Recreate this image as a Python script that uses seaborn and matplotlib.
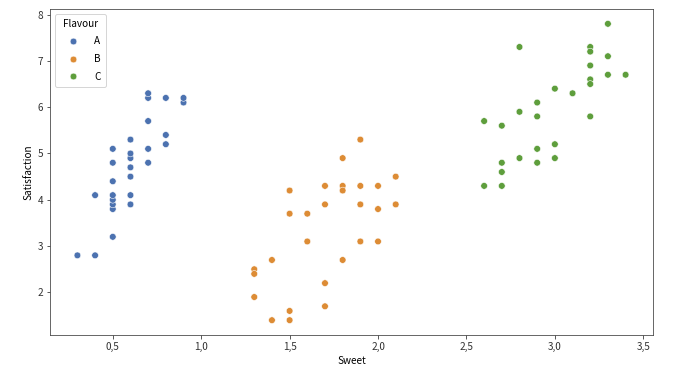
import matplotlib
matplotlib.use("Agg")
import matplotlib.pyplot as plt
from matplotlib.ticker import FuncFormatter
import pandas as pd
import seaborn as sns

# (sweet, satisfaction) per flavour
a_sweet = [0.3, 0.4, 0.4, 0.5, 0.5, 0.5, 0.5, 0.5, 0.5, 0.5, 0.5,
           0.6, 0.6, 0.6, 0.6, 0.6, 0.6, 0.6, 0.7, 0.7, 0.7, 0.7, 0.7,
           0.8, 0.8, 0.8, 0.9, 0.9]
a_satis = [2.8, 2.8, 4.1, 3.2, 3.8, 3.9, 4.0, 4.1, 4.4, 4.8, 5.1,
           3.9, 4.1, 4.5, 4.7, 4.9, 5.0, 5.3, 4.8, 5.1, 5.7, 6.2, 6.3,
           5.2, 5.4, 6.2, 6.1, 6.2]

b_sweet = [1.3, 1.3, 1.3, 1.4, 1.4, 1.5, 1.5, 1.5, 1.5, 1.6, 1.6,
           1.7, 1.7, 1.7, 1.7, 1.8, 1.8, 1.8, 1.8, 1.9, 1.9, 1.9, 1.9,
           2.0, 2.0, 2.0, 2.1, 2.1]
b_satis = [2.5, 2.4, 1.9, 2.7, 1.4, 4.2, 3.7, 1.6, 1.4, 3.7, 3.1,
           4.3, 3.9, 2.2, 1.7, 4.9, 4.3, 4.2, 2.7, 5.3, 4.3, 3.9, 3.1,
           4.3, 3.8, 3.1, 4.5, 3.9]

c_sweet = [2.6, 2.6, 2.7, 2.7, 2.7, 2.7, 2.8, 2.8, 2.8, 2.9, 2.9, 2.9, 2.9,
           3.0, 3.0, 3.0, 3.1, 3.2, 3.2, 3.2, 3.2, 3.2, 3.2,
           3.3, 3.3, 3.3, 3.4]
c_satis = [5.7, 4.3, 5.6, 4.8, 4.6, 4.3, 7.3, 5.9, 4.9, 6.1, 5.8, 5.1, 4.8,
           6.4, 5.2, 4.9, 6.3, 7.3, 7.2, 6.9, 6.6, 6.5, 5.8,
           7.8, 7.1, 6.7, 6.7]

flavours = ["A", "B", "C"]
colours = ["#4c72b0", "#dd8c35", "#5e9e3c"]

df = pd.DataFrame({
    "Sweet": a_sweet + b_sweet + c_sweet,
    "Satisfaction": a_satis + b_satis + c_satis,
    "Flavour": ["A"] * len(a_sweet) + ["B"] * len(b_sweet) + ["C"] * len(c_sweet),
})

plt.rcParams["font.family"] = ["Noto Sans CJK KR", "DejaVu Sans"]
plt.rcParams["font.size"] = 10

fig = plt.figure(figsize=(679 / 72, 379 / 72), dpi=72)
ax = fig.add_axes([50 / 679, 1 - 335 / 379, 603 / 679, 326 / 379])
sns.scatterplot(data=df, x="Sweet", y="Satisfaction", hue="Flavour",
                hue_order=flavours, palette=dict(zip(flavours, colours)),
                s=45, ax=ax)

comma = FuncFormatter(lambda v, _: f"{v:.1f}".replace(".", ","))
ax.xaxis.set_major_formatter(comma)
for sp in ax.spines.values():
    sp.set_color("#444444")
ax.tick_params(colors="#333333", labelcolor="#333333")

ax.legend(title="Flavour", loc="upper left", handlelength=2.6,
          labelspacing=0.75, borderpad=0.5)
fig.savefig("out.png", dpi=72)
